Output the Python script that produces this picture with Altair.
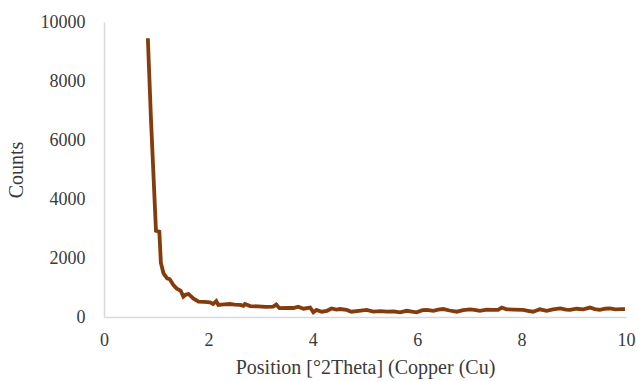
import altair as alt
import pandas as pd

position = [0.84, 0.90, 0.996, 1.06, 1.09, 1.14, 1.21, 1.26, 1.33, 1.39, 1.47, 1.52, 1.57, 1.62,
            1.71, 1.81, 1.92, 2.03, 2.09, 2.15, 2.19, 2.30, 2.41, 2.50, 2.61, 2.67, 2.70, 2.80,
            2.95, 3.10, 3.24, 3.30, 3.36, 3.50, 3.63, 3.72, 3.82, 3.95, 4.01, 4.07, 4.17, 4.27,
            4.36, 4.45, 4.52, 4.65, 4.74, 4.88, 5.03, 5.16, 5.30, 5.42, 5.55, 5.67, 5.80, 5.90,
            5.99, 6.10, 6.18, 6.31, 6.40, 6.50, 6.62, 6.76, 6.88, 7.01, 7.10, 7.20, 7.33, 7.46,
            7.55, 7.62, 7.71, 7.85, 8.03, 8.12, 8.22, 8.35, 8.48, 8.60, 8.74, 8.85, 8.93, 9.05,
            9.18, 9.31, 9.40, 9.50, 9.60, 9.69, 9.80, 9.90, 9.98]
counts = [9450, 6700, 2925, 2890, 1830, 1480, 1310, 1280, 1085, 970, 890, 690, 760, 780,
          630, 520, 510, 500, 440, 540, 410, 430, 440, 420, 410, 380, 440, 370,
          360, 340, 350, 420, 300, 310, 305, 350, 280, 320, 160, 240, 180, 210,
          290, 250, 270, 240, 180, 210, 240, 180, 200, 180, 190, 160, 210, 180,
          160, 230, 240, 210, 250, 270, 220, 180, 230, 260, 240, 210, 250, 240,
          240, 320, 260, 250, 240, 210, 180, 260, 210, 260, 290, 250, 240, 280,
          260, 320, 270, 240, 280, 290, 260, 270, 270]
x_ticks = [0, 2, 4, 6, 8, 10]
y_ticks = [0, 2000, 4000, 6000, 8000, 10000]

df = pd.DataFrame({"pos": position, "counts": counts})

FONT = "Liberation Serif"
LABEL_FONT = "'Liberation Serif', 'Times New Roman', serif"
AXIS_COLOR = "#d9d9d9"
TEXT_COLOR = "#3a3a3a"

chart = alt.Chart(df).mark_line(color="#843C0C", strokeWidth=3.8).encode(
    x=alt.X("pos:Q", scale=alt.Scale(domain=[0, 10], nice=False),
            axis=alt.Axis(title="Position [°2Theta] (Copper (Cu)", values=x_ticks, format="d",
                          grid=False, ticks=False, labelPadding=14, titlePadding=8,
                          labelFlush=False, labelOverlap=False,
                          domainColor=AXIS_COLOR, domainWidth=1.5,
                          labelFont=LABEL_FONT, labelFontSize=18, labelColor=TEXT_COLOR,
                          titleFont=FONT, titleFontSize=20, titleFontWeight="normal",
                          titleColor=TEXT_COLOR)),
    y=alt.Y("counts:Q", scale=alt.Scale(domain=[0, 10000], nice=False),
            axis=alt.Axis(title="Counts", values=y_ticks, format="d",
                          grid=False, ticks=False, labelPadding=19, titlePadding=14,
                          labelFlush=False, labelOverlap=False,
                          domainColor=AXIS_COLOR, domainWidth=1.5,
                          labelFont=LABEL_FONT, labelFontSize=18, labelColor=TEXT_COLOR,
                          titleFont=FONT, titleFontSize=20, titleFontWeight="normal",
                          titleColor=TEXT_COLOR)),
).properties(
    width=522, height=295,
    autosize=alt.AutoSizeParams(type="none"),
    padding={"left": 104, "top": 22, "right": 10, "bottom": 64},
).configure(font=FONT).configure_view(stroke=None)

chart.save("out.html", embed_options={"renderer": "svg", "actions": False})
